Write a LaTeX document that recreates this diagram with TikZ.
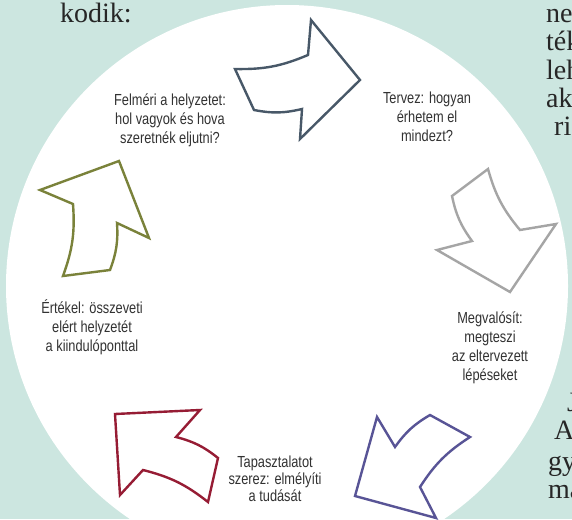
\documentclass[tikz,border=0pt]{standalone}
\usepackage{fontspec}
\setmainfont{Liberation Serif}
\newfontfamily\labelfont[FakeStretch=0.8]{Liberation Sans}
\definecolor{bgteal}{RGB}{204,230,224}
\definecolor{cTop}{RGB}{72,88,104}
\definecolor{cRight}{RGB}{165,165,165}
\definecolor{cBR}{RGB}{88,84,150}
\definecolor{cBL}{RGB}{150,28,52}
\definecolor{cLeft}{RGB}{122,130,58}
\definecolor{txt}{RGB}{50,50,50}
\begin{document}
\begin{tikzpicture}[x=1pt,y=-1pt,
  arrowshape/.style={line width=2.4pt, line join=miter, fill=white},
  lbl/.style={font=\labelfont\fontsize{16}{19}\selectfont, text=txt, align=center, inner sep=0pt},
  lbltight/.style={font=\labelfont\fontsize{16}{17}\selectfont, text=txt, align=center, inner sep=0pt},
  frag/.style={font=\fontsize{28}{28}\selectfont, text=black!85, anchor=base west, inner sep=0pt}]
\useasboundingbox (0,0) rectangle (572,519);
\clip (0,0) rectangle (572,519);
\fill[bgteal] (0,0) rectangle (572,519);
% text fragments of the surrounding page
\node[frag] (kodik) at (60,23) {kodik:};
\node[frag] (ne) at (546,23) {ne};
\node[frag] (tek) at (546,51) {ték};
\node[frag] (leh) at (546,79) {leh};
\node[frag] (ak) at (546,107) {ak};
\node[frag] (ri) at (554,135) {ri};
\node[frag] (jj) at (567,411) {J};
\node[frag] (aa) at (554,439) {A};
\node[frag] (gy) at (548,470) {gy};
\node[frag] (ma) at (548,498) {ma};
% white disc
\fill[white] (287,286) circle[radius=281pt];
% arrows
\draw[arrowshape, draw=cTop] (235,69) to[bend right=12] (308,55) -- (311,20) -- (360,80) -- (300,139) -- (302,109) to[bend left=12] (254,110) -- cycle;
\draw[arrowshape, draw=cRight] (452,196) to[bend right=12] (472,241) -- (437,250) -- (510,292) -- (556,224) -- (520,230) to[bend left=12] (488,169) -- cycle;
\draw[arrowshape, draw=cBR] (377,417) -- (395,447) to[bend left=12] (430,415) -- (470,437) to[bend right=12] (420,487) -- (436,518) -- (355,496) -- cycle;
\draw[arrowshape, draw=cBL] (115,414) -- (200,410) -- (176,437) to[bend left=12] (218,458) -- (208,502) to[bend right=12] (143,470) -- (120,495) -- cycle;
\draw[arrowshape, draw=cLeft] (40,190) -- (119,161) -- (149,238) -- (117,223) to[bend left=12] (110,270) -- (63,276) to[bend right=12] (73,204) -- cycle;
% labels
\node[lbl] (felmeri) at (170,120) {Felméri a helyzetet:\\hol vagyok és hova\\szeretnék eljutni?};
\node[lbl] (tervez) at (427,117) {Tervez: hogyan\\érhetem el\\mindezt?};
\node[lbl] (megval) at (490,348) {Megvalósít:\\megteszi\\az eltervezett\\lépéseket};
\node[lbltight] (tapaszt) at (275,479) {Tapasztalatot\\szerez: elmélyíti\\a tudását};
\node[lbl] (ertekel) at (92,327) {Értékel: összeveti\\elért helyzetét\\a kiindulóponttal};
\end{tikzpicture}
\end{document}
